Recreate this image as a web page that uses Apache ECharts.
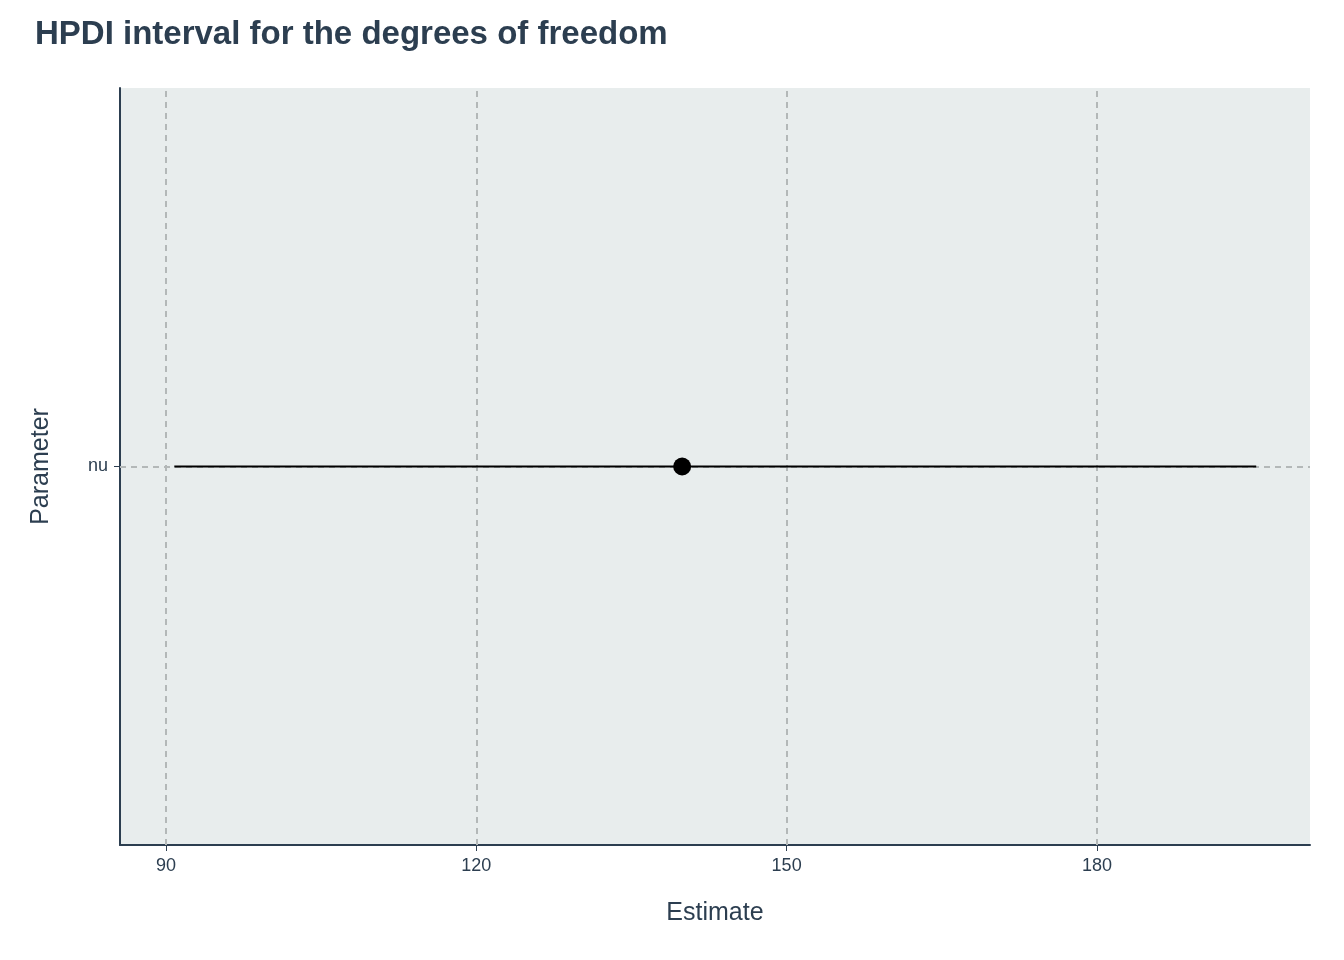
<!DOCTYPE html>
<html>
<head>
<meta charset="UTF-8">
<title>HPDI interval</title>
<style>
  html, body { margin: 0; background: #fff; }
  #chart { width: 1344px; height: 960px; }
</style>
</head>
<body>
<div id="chart"></div>
<script src="https://cdn.jsdelivr.net/npm/echarts@6/dist/echarts.min.js"></script>
<script>
const categories = ['nu'];
const lower = [90.8];
const upper = [195.4];
const estimate = [139.9];
const xTicks = [90, 120, 150, 180];

const dark = '#2c3e50';
const chart = echarts.init(document.getElementById('chart'));
const font = 'Helvetica, Arial, "Liberation Sans", sans-serif';

chart.setOption({
  animation: false,
  title: {
    text: 'HPDI interval for the degrees of freedom',
    left: 30, top: 13,
    textStyle: {fontFamily: font, fontSize: 33, fontWeight: 'bold', color: dark}
  },
  grid: {left: 120, right: 34, top: 88, bottom: 115, show: true,
    backgroundColor: '#e8eded', borderWidth: 0},
  xAxis: {
    type: 'value', min: 85.55, max: 200.6,
    name: 'Estimate', nameLocation: 'middle', nameGap: 56,
    nameTextStyle: {fontFamily: font, fontSize: 25, color: dark},
    axisLine: {show: true, onZero: false, lineStyle: {color: dark, width: 2}},
    axisTick: {show: true, customValues: xTicks, length: 6, lineStyle: {color: dark}},
    axisLabel: {customValues: xTicks, fontFamily: font, fontSize: 18, color: dark, margin: 12},
    splitLine: {show: false}
  },
  yAxis: {
    type: 'category', data: categories,
    name: 'Parameter', nameLocation: 'middle', nameGap: 66, nameRotate: 90,
    nameTextStyle: {fontFamily: font, fontSize: 25, color: dark},
    axisLine: {show: true, lineStyle: {color: dark, width: 2}},
    axisTick: {show: true, alignWithLabel: true, length: 6, lineStyle: {color: dark}},
    axisLabel: {fontFamily: font, fontSize: 18, color: dark, margin: 12},
    splitLine: {show: false}
  },
  series: [
    {
      type: 'line',
      data: categories.map((c, i) => [lower[i], c]).concat(categories.map((c, i) => [upper[i], c])),
      symbol: 'none',
      lineStyle: {color: '#000', width: 2.2, opacity: 1},
      z: 3,
      markLine: {
        silent: true, symbol: 'none', label: {show: false},
        lineStyle: {color: '#b3b8b8', type: [6, 5], width: 2, opacity: 1},
        data: xTicks.map(v => ({xAxis: v})).concat(categories.map(c => ({yAxis: c}))),
        z: 1
      }
    },
    {
      type: 'scatter',
      data: categories.map((c, i) => [estimate[i], c]),
      symbolSize: 18,
      itemStyle: {color: '#000', opacity: 1},
      z: 4
    }
  ]
});
</script>
</body>
</html>
